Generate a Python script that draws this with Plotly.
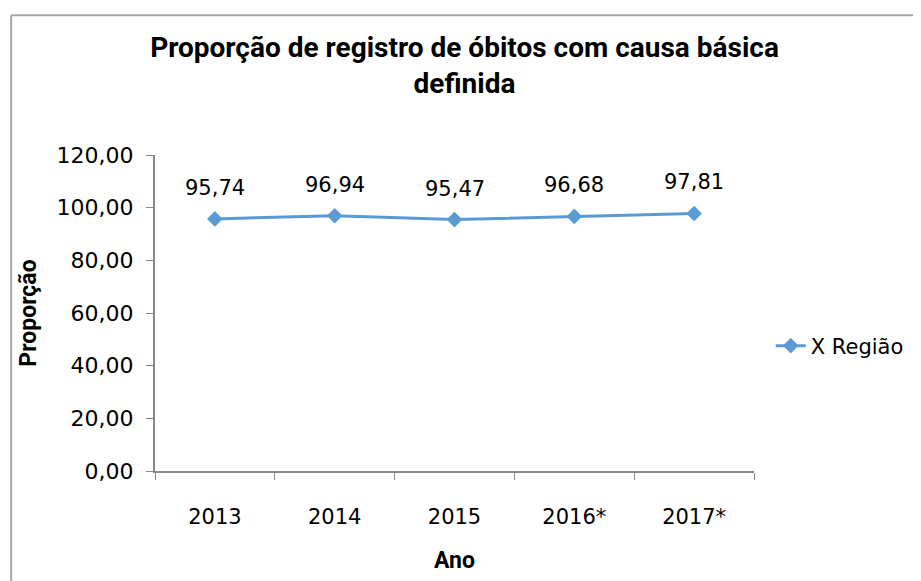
import plotly.graph_objects as go

anos = ["2013", "2014", "2015", "2016*", "2017*"]
proporcao = [95.74, 96.94, 95.47, 96.68, 97.81]
serie_nome = "X Região"
titulo = "Proporção de registro de óbitos com causa básica<br>definida"
y_ticks = [0, 20, 40, 60, 80, 100, 120]


def br(v):
    return f"{v:.2f}".replace(".", ",")


pos = list(range(len(anos)))
limites = [p - 0.5 for p in pos] + [pos[-1] + 0.5]

LINE = "#5B9BD5"
AXIS = "#868686"
BORDER = "#A6A6A6"
TEXTFONT = dict(family="DejaVu Sans", size=21, color="#000000")
YTICKFONT = dict(family="DejaVu Sans", size=22, color="#000000")
BOLDFONT = dict(family="Roboto", size=23, color="#000000", weight="bold")

fig = go.Figure()
fig.add_trace(go.Scatter(
    x=pos, y=proporcao, mode="lines+markers", name=serie_nome,
    line=dict(color=LINE, width=3),
    marker=dict(symbol="diamond", size=12, color=LINE),
))
for p, v in zip(pos, proporcao):
    fig.add_annotation(x=p, y=v, xref="x", yref="y", text=br(v), showarrow=False,
                       yshift=31, font=TEXTFONT)

# figure size / margins (page body adds an 8px offset)
W, H = 913, 573
L, T = 147, 147
PW, PH = 608, 321
R, B = W - L - PW, H - T - PH


def px(x):
    return (x - L) / PW


def py(y):
    return (T + PH - y) / PH


# chart-area border: top and left edges
fig.add_shape(type="line", xref="paper", yref="paper",
              x0=px(1), x1=px(W + 20), y0=py(5), y1=py(5),
              line=dict(color=BORDER, width=2))
fig.add_shape(type="line", xref="paper", yref="paper",
              x0=px(1), x1=px(1), y0=py(5), y1=py(H + 20),
              line=dict(color=BORDER, width=2))

fig.update_layout(
    width=W, height=H,
    margin=dict(l=L, r=R, t=T, b=B),
    paper_bgcolor="white", plot_bgcolor="white",
    title=dict(text=titulo, x=0.5, xanchor="center", xref="container",
               y=1 - 49 / H, yanchor="top", yref="container",
               font=dict(family="Roboto", size=28, color="#000000", weight="bold")),
    showlegend=True,
    legend=dict(x=px(752 + 20), y=py(341), xanchor="left", yanchor="middle",
                font=TEXTFONT, bgcolor="rgba(0,0,0,0)"),
    xaxis=dict(range=[limites[0], limites[-1]], tickvals=pos, ticktext=anos, ticks="",
               minor=dict(tickvals=limites, ticks="outside", ticklen=7, tickcolor=AXIS,
                          tickwidth=1, showgrid=False),
               showline=True, linecolor=AXIS, linewidth=2, ticklabelstandoff=26,
               showgrid=False, zeroline=False, tickfont=TEXTFONT,
               title=dict(text="Ano", font=BOLDFONT, standoff=24)),
    yaxis=dict(range=[0, 120], tickvals=y_ticks, ticktext=[br(t) for t in y_ticks],
               showline=True, linecolor=AXIS, linewidth=2, ticks="outside", ticklen=7,
               tickcolor=AXIS, tickwidth=1, showgrid=False, zeroline=False, tickfont=YTICKFONT,
               ticklabelstandoff=8,
               title=dict(text="Proporção", font=BOLDFONT, standoff=14)),
)

fig.write_html("out.html")
